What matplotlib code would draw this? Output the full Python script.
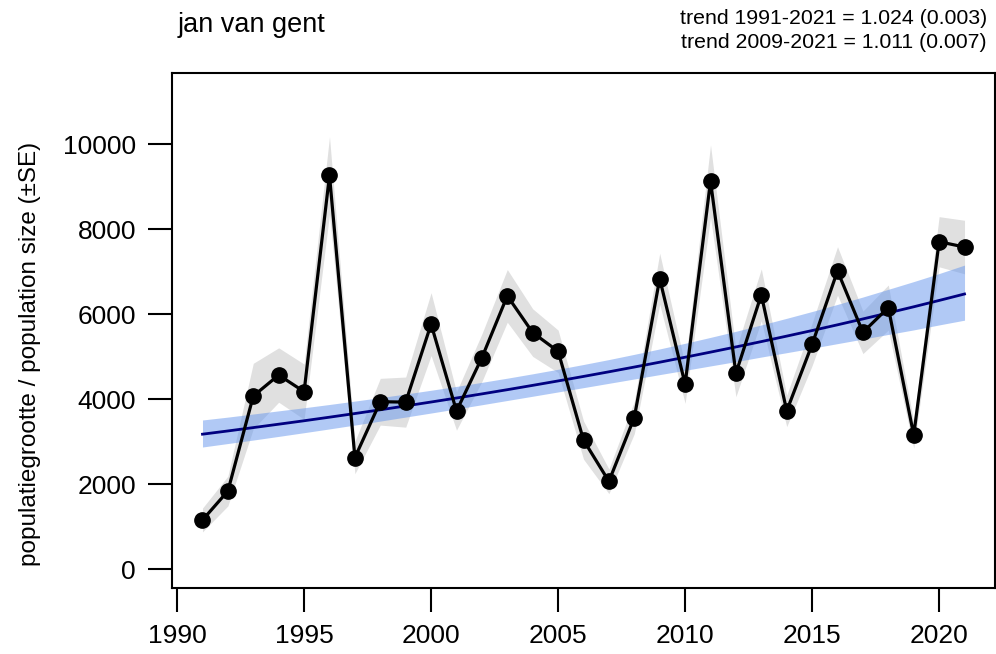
import matplotlib.pyplot as plt
import numpy as np

plt.rcParams['font.family'] = ['Liberation Sans', 'DejaVu Sans']

# jaarlijkse populatieschattingen met standaardfout
jaren = list(range(1991, 2022))
aantal = [1160, 1842, 4078, 4572, 4180, 9270, 2630, 3944, 3935, 5770,
          3725, 4980, 6435, 5570, 5130, 3042, 2070, 3572, 6838, 4356,
          9137, 4612, 6460, 3728, 5294, 7022, 5577, 6160, 3160, 7709, 7584]
se = [280, 350, 770, 640, 650, 910, 380, 550, 590, 740,
      450, 560, 620, 560, 500, 450, 290, 380, 600, 450,
      850, 550, 610, 370, 500, 570, 500, 530, 310, 590, 630]

# trendlijn met betrouwbaarheidsband
trend = [3180, 3256, 3335, 3415, 3496, 3580, 3666, 3754, 3845, 3937,
         4031, 4128, 4227, 4329, 4433, 4539, 4648, 4760, 4874, 4991,
         5111, 5233, 5359, 5488, 5619, 5754, 5892, 6034, 6178, 6327, 6479]
trend_hoog = [3514, 3582, 3655, 3729, 3802, 3879, 3959, 4041, 4126, 4214,
              4304, 4400, 4498, 4601, 4708, 4820, 4936, 5059, 5186, 5319,
              5458, 5601, 5751, 5907, 6067, 6234, 6408, 6589, 6771, 6960, 7159]
trend_laag = [2878, 2960, 3042, 3128, 3215, 3304, 3395, 3488, 3583, 3678,
              3775, 3873, 3973, 4073, 4174, 4275, 4377, 4479, 4582, 4683,
              4786, 4888, 4995, 5098, 5203, 5311, 5418, 5527, 5634, 5751, 5863]

soort = 'jan van gent'
trend_teksten = ['trend 1991-2021 = 1.024 (0.003)',
                 'trend 2009-2021 = 1.011 (0.007)']

x = np.array(jaren)
y = np.array(aantal)
s = np.array(se)

fig = plt.figure(figsize=(9.96, 6.54), dpi=100)
ax = fig.add_axes([0.1727, 0.1009, 0.8263, 0.7875])

ax.fill_between(x, y - s, y + s, color='#e0e0e0', lw=0)
ax.fill_between(x, trend_laag, trend_hoog, color='#6495ed', alpha=0.5, lw=0)
ax.plot(x, trend, color='#000080', lw=2)
ax.plot(x, y, color='black', lw=2.3, marker='o', ms=11)

ax.set_xlim(1989.8, 2022.2)
ax.set_ylim(-440, 11680)
ax.set_xticks(range(1990, 2021, 5))
ax.set_yticks(range(0, 10001, 2000))
ax.tick_params(direction='out', length=17, width=1.5, labelsize=19, pad=9)
for sp in ax.spines.values():
    sp.set_linewidth(1.5)

fig.text(0.03, 1 - 354 / 654, 'populatiegrootte / population size (±SE)',
         rotation=90, ha='center', va='center', fontsize=17.5)
fig.text(178 / 996, 1 - 25 / 654, soort, ha='left', va='center', fontsize=19.5)
fig.text(987 / 996, 1 - 18 / 654, trend_teksten[0], ha='right', va='center', fontsize=15.3)
fig.text(987 / 996, 1 - 43 / 654, trend_teksten[1], ha='right', va='center', fontsize=15.3)

fig.savefig('out.png', dpi=100)
